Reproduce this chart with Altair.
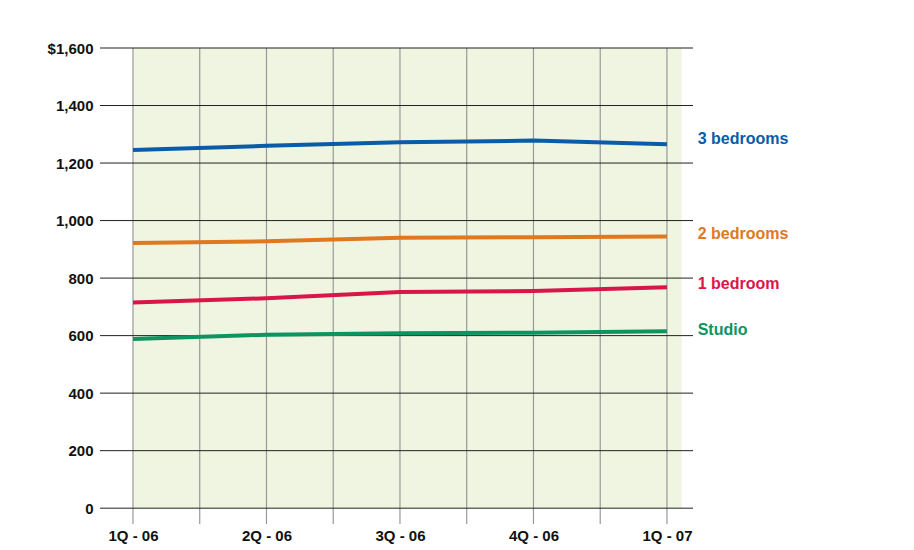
import altair as alt
import pandas as pd

quarters = ["1Q - 06", "2Q - 06", "3Q - 06", "4Q - 06", "1Q - 07"]
series_names = ["3 bedrooms", "2 bedrooms", "1 bedroom", "Studio"]
colors = ["#0a5ba8", "#e07820", "#d8164a", "#0d9460"]
values = {
    "3 bedrooms": [1245, 1260, 1272, 1278, 1265],
    "2 bedrooms": [922, 928, 940, 942, 945],
    "1 bedroom": [715, 730, 752, 755, 768],
    "Studio": [588, 603, 608, 610, 615],
}
label_y = {"3 bedrooms": 1285, "2 bedrooms": 952, "1 bedroom": 780, "Studio": 620}
FONT = "Liberation Sans"

rows = []
for s in series_names:
    for i, v in enumerate(values[s]):
        rows.append({"series": s, "x": i, "value": v})
df = pd.DataFrame(rows)
lab = pd.DataFrame({"series": series_names, "x": [4.23] * 4, "value": [label_y[s] for s in series_names]})

xs = alt.Scale(domain=[-0.247, 4.195], nice=False, zero=False)
ys = alt.Scale(domain=[-55, 1600], nice=False, zero=False)
cs = alt.Scale(domain=series_names, range=colors)

bg = alt.Chart(pd.DataFrame({"a": [0], "b": [4.11], "y1": [0], "y2": [1600]})).mark_rect(color="#eff5e1").encode(
    x=alt.X("a:Q", scale=xs), x2="b", y=alt.Y("y1:Q", scale=ys), y2="y2")

vgrid = alt.Chart(pd.DataFrame({"x": [i * 0.5 for i in range(9)], "y1": [-55] * 9, "y2": [1600] * 9})).mark_rule(
    color="#999999", strokeWidth=1.2).encode(x=alt.X("x:Q", scale=xs), y=alt.Y("y1:Q", scale=ys), y2="y2")

hgrid = alt.Chart(pd.DataFrame({"v": list(range(0, 1601, 200))})).mark_rule(color="#222", strokeWidth=1).encode(
    y=alt.Y("v:Q", scale=ys,
            axis=alt.Axis(values=list(range(0, 1601, 200)), title=None, domain=False, ticks=False, grid=False,
                          labelPadding=7, labelFont=FONT, labelFontSize=15, labelFontWeight="bold", labelColor="#111",
                          labelExpr="datum.value == 1600 ? '$1,600' : format(datum.value, ',')")),
    x=alt.value(0), x2=alt.value(593))

lines = alt.Chart(df).mark_line(strokeWidth=4).encode(
    x=alt.X("x:Q", scale=xs, axis=alt.Axis(values=[0, 1, 2, 3, 4], title=None, domain=False, ticks=False, grid=False,
                                           labelFont=FONT, labelFontSize=15, labelFontWeight="bold", labelColor="#111",
                                           labelPadding=4,
                                           labelExpr="['1Q - 06','2Q - 06','3Q - 06','4Q - 06','1Q - 07'][datum.value]")),
    y=alt.Y("value:Q", scale=ys),
    color=alt.Color("series:N", scale=cs, legend=None), detail="series:N")

labels = alt.Chart(lab).mark_text(align="left", baseline="middle", font=FONT, fontSize=16, fontWeight="bold",
                                  clip=False).encode(
    x=alt.X("x:Q", scale=xs), y=alt.Y("value:Q", scale=ys), text="series:N",
    color=alt.Color("series:N", scale=cs, legend=None))

chart = alt.layer(bg, vgrid, hgrid, lines, labels).properties(
    width=593, height=476, autosize=alt.AutoSizeParams(type="none"),
    padding={"left": 92, "top": 40, "right": 200, "bottom": 24}, background="white"
).configure_view(stroke=None)

chart.save("out.html", embed_options={"renderer": "svg", "actions": False})
